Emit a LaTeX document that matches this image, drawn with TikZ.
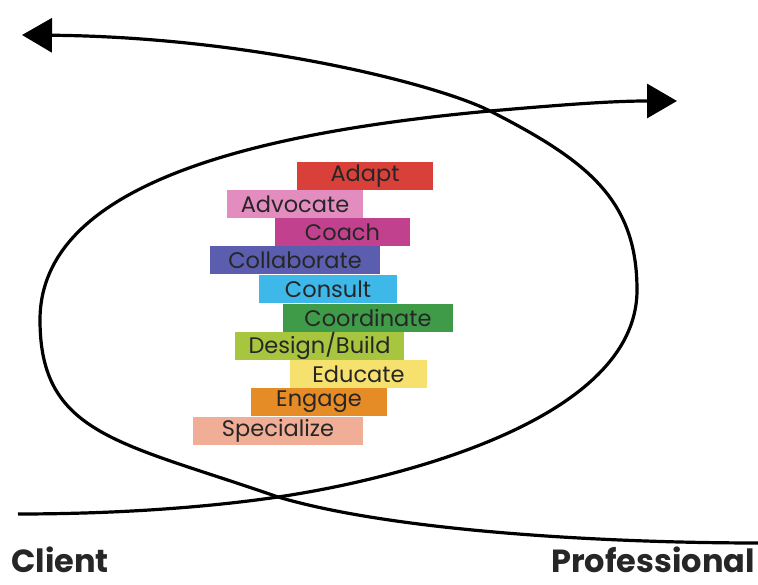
\documentclass[tikz,border=0pt]{standalone}
\usepackage{fontspec}
\setmainfont{Poppins}
\usetikzlibrary{arrows.meta,positioning}

\definecolor{adaptred}{RGB}{217,64,58}
\definecolor{advocatepink}{RGB}{227,140,192}
\definecolor{coachmagenta}{RGB}{194,65,143}
\definecolor{collabblue}{RGB}{91,94,174}
\definecolor{consultcyan}{RGB}{61,184,232}
\definecolor{coordgreen}{RGB}{63,155,72}
\definecolor{designlime}{RGB}{168,197,63}
\definecolor{educateyellow}{RGB}{246,224,110}
\definecolor{engageorange}{RGB}{229,140,38}
\definecolor{specialsalmon}{RGB}{239,174,149}
\definecolor{labeltext}{RGB}{38,38,38}

\begin{document}
\begin{tikzpicture}[
  x=1pt, y=1pt,
  every node/.style={text=labeltext},
  role/.style={minimum height=28.5pt, inner sep=0pt, align=center,
               font=\fontsize{22.5}{24}\selectfont},
  swirl/.style={line width=3.2pt, black},
  tip/.style={-{Triangle[length=30pt,width=34pt]}},
  side/.style={font=\fontsize{32}{36}\selectfont\bfseries, inner sep=0pt}
]
  \useasboundingbox (0,0) rectangle (758,585);

  % the ten roles
  \node[role, fill=adaptred, minimum width=136pt] (adapt) at (365,409) {Adapt};
  \node[role, fill=advocatepink, minimum width=136pt] (advocate) at (295,381) {Advocate};
  \node[role, fill=coachmagenta, minimum width=135pt] (coach) at (342.5,353) {Coach};
  \node[role, fill=collabblue, minimum width=170pt] (collaborate) at (295,325) {Collaborate};
  \node[role, fill=consultcyan, minimum width=138pt] (consult) at (328,296) {Consult};
  \node[role, fill=coordgreen, minimum width=170pt] (coordinate) at (368,267) {Coordinate};
  \node[role, fill=designlime, minimum width=169pt] (design) at (319.5,239) {Design/Build};
  \node[role, fill=educateyellow, minimum width=137pt] (educate) at (358.5,211) {Educate};
  \node[role, fill=engageorange, minimum width=136pt] (engage) at (319,183) {Engage};
  \node[role, fill=specialsalmon, minimum width=170pt] (specialize) at (278,154) {Specialize};

  % the two ends
  \node[side, anchor=base west] (client) at (11,12) {Client};
  \node[side, anchor=base east] (professional) at (755,12) {Professional};

  % crossing points of the loop
  \coordinate (low) at (278,88);
  \coordinate (high) at (490,474);

  % client side, back to the top left
  \draw[swirl, tip] (18,71) .. controls (120,71) and (210,78) .. (low)
    .. controls (380,103) and (637,160) .. (637,295)
    .. controls (637,385) and (588,424) .. (high)
    .. controls (437,501) and (250,548) .. (22,550);

  % professional side, out to the right
  \draw[swirl, tip] (758,42) .. controls (620,42) and (400,52) .. (low)
    .. controls (120,143) and (40,150) .. (40,265)
    .. controls (40,400) and (251,452) .. (high)
    .. controls (560,480) and (610,484) .. (677,484);
\end{tikzpicture}
\end{document}
